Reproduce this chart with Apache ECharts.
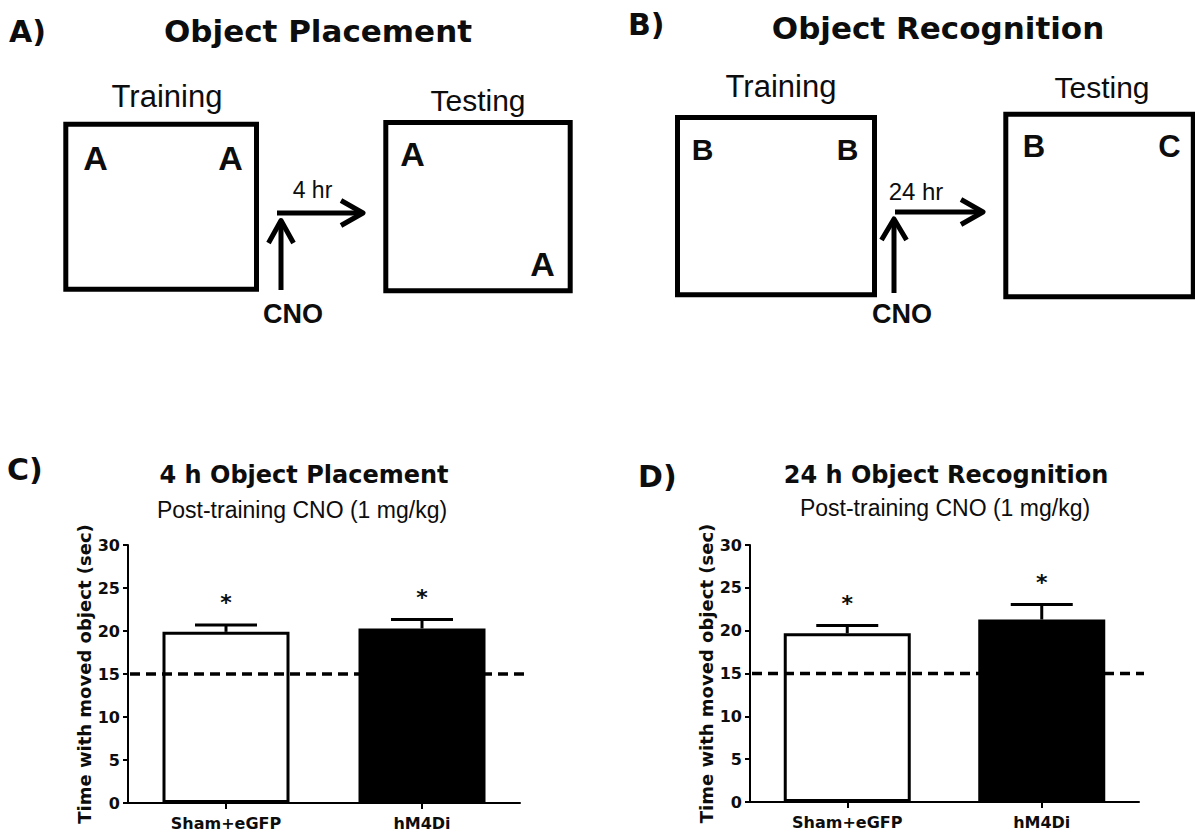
<!DOCTYPE html>
<html>
<head>
<meta charset="utf-8">
<script src="https://cdn.jsdelivr.net/npm/echarts@6/dist/echarts.min.js"></script>
<style>
  html, body { margin: 0; padding: 0; background: #ffffff; }
  #chart { width: 1195px; height: 834px; }
</style>
</head>
<body>
<div id="chart"></div>
<script>
// Groups on both bar charts
const categories = ['Sham+eGFP', 'hM4Di'];

// 4 h object placement: mean time with the moved object (sec) and SEM
const placementMean = [19.9, 20.3];
const placementSem = [0.8, 1.05];

// 24 h object recognition: mean time with the novel object (sec) and SEM
const recognitionMean = [19.7, 21.3];
const recognitionSem = [0.9, 1.75];

// Significance marks drawn above each error bar
const placementMarks = ['*', '*'];
const recognitionMarks = ['*', '*'];

// Chance level (equal time with both objects)
const chanceLevel = [15];

// Value axis ticks
const yMin = 0, yMax = 30, yStep = 5;

const barFills = ['#ffffff', '#000000'];
const INK = '#0d0d0d';
const WIDE = '"DejaVu Sans", sans-serif';
const ARIAL = '"Liberation Sans", Arial, sans-serif';

// ---------- schematic helpers ----------
function label(text, x, y, size, weight, family, align) {
  return {
    type: 'text', x: x, y: y, silent: true,
    style: {
      text: text, fontSize: size, fontWeight: weight, fontFamily: family,
      fill: INK, align: align || 'center', verticalAlign: 'middle'
    }
  };
}
function box(x, y, w, h) {
  return {
    type: 'rect', silent: true,
    shape: { x: x, y: y, width: w, height: h },
    style: { fill: 'none', stroke: '#000', lineWidth: 5 }
  };
}
function stroke(points) {
  return {
    type: 'polyline', silent: true,
    shape: { points: points },
    style: { fill: 'none', stroke: '#000', lineWidth: 5, lineJoin: 'round', lineCap: 'butt' }
  };
}

const schematic = [
  // Panel A: object placement
  label('A)', 9, 31, 30, 'bold', WIDE, 'left'),
  label('Object Placement', 318, 31, 31, 'bold', WIDE),
  label('Training', 167, 96, 31, 'normal', ARIAL),
  label('Testing', 478, 100, 30, 'normal', ARIAL),
  box(65.8, 124.2, 190.7, 165),
  box(385.8, 122.5, 184.4, 168.3),
  label('A', 95.5, 157.5, 34, 'bold', ARIAL),
  label('A', 230.5, 157.5, 34, 'bold', ARIAL),
  label('A', 412.5, 153.5, 34, 'bold', ARIAL),
  label('A', 542.5, 264, 34, 'bold', ARIAL),
  stroke([[281, 290], [281, 222]]),
  stroke([[268.5, 243], [281, 220.5], [293.5, 243]]),
  stroke([[277, 213], [362, 213]]),
  stroke([[341, 200.5], [363, 213], [341, 225.5]]),
  label('4 hr', 312.5, 190, 23, 'normal', ARIAL),
  label('CNO', 293, 313.5, 27, 'bold', ARIAL),

  // Panel B: object recognition
  label('B)', 628, 24, 30, 'bold', WIDE, 'left'),
  label('Object Recognition', 938, 27.5, 31, 'bold', WIDE),
  label('Training', 781, 86.7, 31, 'normal', ARIAL),
  label('Testing', 1102, 87.5, 30, 'normal', ARIAL),
  box(677.5, 117.5, 197, 177.3),
  box(1005.8, 114.2, 187.5, 182.6),
  label('B', 702.5, 149, 30, 'bold', ARIAL),
  label('B', 847.5, 149, 30, 'bold', ARIAL),
  label('B', 1034, 146, 31, 'bold', ARIAL),
  label('C', 1169.5, 146, 31, 'bold', ARIAL),
  stroke([[894, 293], [894, 221]]),
  stroke([[881.5, 240], [894, 219], [906.5, 240]]),
  stroke([[895, 212], [981, 212]]),
  stroke([[961, 199.5], [983, 212], [961, 224.5]]),
  label('24 hr', 916, 191.7, 24, 'normal', ARIAL),
  label('CNO', 902, 314, 27, 'bold', ARIAL),

  // Panel C and D headings
  label('C)', 7, 469, 30, 'bold', WIDE, 'left'),
  label('4 h Object Placement', 304, 474.5, 24, 'bold', WIDE),
  label('Post-training CNO (1 mg/kg)', 302, 510, 23, 'normal', ARIAL),
  label('D)', 638, 476, 30, 'bold', WIDE, 'left'),
  label('24 h Object Recognition', 946, 474.7, 24, 'bold', WIDE),
  label('Post-training CNO (1 mg/kg)', 945, 507.5, 23, 'normal', ARIAL)
];

// ---------- bar chart pieces ----------
function valueAxis(gridIndex) {
  return {
    type: 'value', gridIndex: gridIndex,
    min: yMin, max: yMax, interval: yStep,
    name: 'Time with moved object (sec)',
    nameLocation: 'middle', nameGap: 31,
    nameTextStyle: { fontFamily: WIDE, fontWeight: 'bold', fontSize: 18, color: INK },
    axisLine: { show: true, lineStyle: { color: '#000', width: 2 } },
    axisTick: { show: true, length: 5, lineStyle: { color: '#000', width: 2 } },
    axisLabel: { margin: 8, fontFamily: WIDE, fontWeight: 'bold', fontSize: 16, color: INK },
    splitLine: { show: false }
  };
}
function categoryAxis(gridIndex) {
  return {
    type: 'category', gridIndex: gridIndex, data: categories,
    axisLine: { show: true, lineStyle: { color: '#000', width: 2 } },
    axisTick: { show: true, alignWithLabel: true, length: 6, lineStyle: { color: '#000', width: 2 } },
    axisLabel: { margin: 12, fontFamily: WIDE, fontWeight: 'bold', fontSize: 16, color: INK }
  };
}
function barSeries(idx, means) {
  return {
    type: 'bar', xAxisIndex: idx, yAxisIndex: idx,
    barWidth: 127, z: 2, silent: true,
    itemStyle: { borderColor: '#000', borderWidth: 3 },
    data: means.map(function (v, i) {
      return { value: v, itemStyle: { color: barFills[i] } };
    })
  };
}
// Upward SEM bar with a cap and the significance mark above it
function errorSeries(idx, means, sems, marks) {
  return {
    type: 'custom', xAxisIndex: idx, yAxisIndex: idx, z: 4, clip: false, silent: true,
    data: means.map(function (v, i) { return [i, v, sems[i]]; }),
    renderItem: function (params, api) {
      const i = api.value(0), v = api.value(1), s = api.value(2);
      const base = api.coord([i, v]);
      const top = api.coord([i, v + s]);
      const half = 31;
      return {
        type: 'group',
        children: [
          { type: 'line', shape: { x1: top[0], y1: base[1], x2: top[0], y2: top[1] },
            style: { stroke: '#000', lineWidth: 3 } },
          { type: 'line', shape: { x1: top[0] - half, y1: top[1], x2: top[0] + half, y2: top[1] },
            style: { stroke: '#000', lineWidth: 3 } },
          { type: 'text', x: top[0], y: top[1] - 22,
            style: { text: marks[i], fontFamily: WIDE, fontWeight: 'bold', fontSize: 22,
                     fill: INK, align: 'center', verticalAlign: 'middle' } }
        ]
      };
    }
  };
}
// Dashed chance-level line across the plot
function chanceSeries(idx) {
  return {
    type: 'custom', xAxisIndex: idx, yAxisIndex: idx, z: 5, clip: false, silent: true,
    data: chanceLevel.map(function (v) { return [0, v]; }),
    renderItem: function (params, api) {
      const cs = params.coordSys;
      const y = api.coord([0, api.value(1)])[1];
      return {
        type: 'line',
        shape: { x1: cs.x + 2, y1: y, x2: cs.x + cs.width + 5, y2: y },
        style: { stroke: '#000', lineWidth: 3.5, lineDash: [10, 6] }
      };
    }
  };
}

const chart = echarts.init(document.getElementById('chart'), null, { renderer: 'svg' });
chart.setOption({
  backgroundColor: '#ffffff',
  animation: false,
  grid: [
    { left: 128, top: 545, width: 392, height: 258 },
    { left: 750, top: 545, width: 389, height: 257 }
  ],
  xAxis: [categoryAxis(0), categoryAxis(1)],
  yAxis: [valueAxis(0), valueAxis(1)],
  series: [
    barSeries(0, placementMean),
    errorSeries(0, placementMean, placementSem, placementMarks),
    chanceSeries(0),
    barSeries(1, recognitionMean),
    errorSeries(1, recognitionMean, recognitionSem, recognitionMarks),
    chanceSeries(1)
  ],
  graphic: schematic
});
</script>
</body>
</html>
